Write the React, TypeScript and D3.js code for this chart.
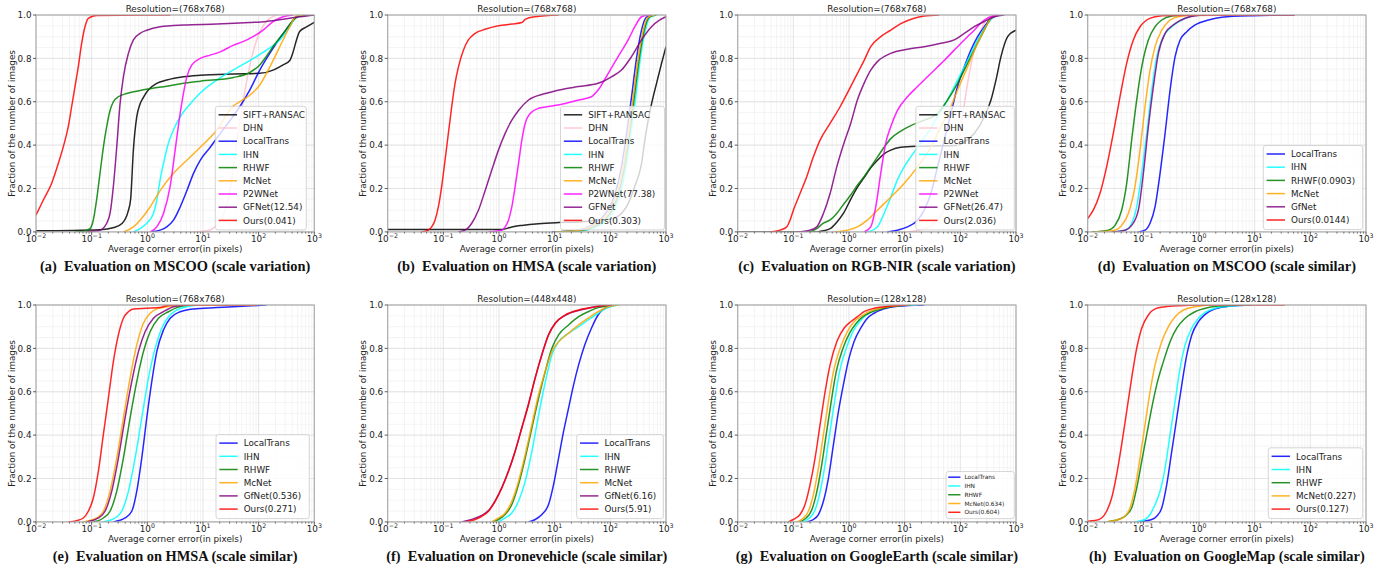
import React from 'react';
import * as d3 from 'd3';

// Every point is [log10(average corner error in pixels), fraction of images]
type Pt = [number, number];

// ---------- (a) MSCOO, scale variation ----------
const aSift: Pt[] = [[-2,0.005],[-0.85,0.01],[-0.6,0.02],[-0.45,0.04],[-0.35,0.09],[-0.3,0.15],[-0.25,0.38],[-0.19,0.53],[-0.13,0.59],[-0.07,0.62],[0.02,0.655],[0.17,0.685],[0.35,0.7],[0.65,0.715],[0.95,0.722],[1.55,0.728],[2.02,0.731],[2.26,0.746],[2.44,0.77],[2.56,0.79],[2.62,0.83],[2.68,0.885],[2.74,0.925],[2.86,0.945],[3.0,0.966]];
const aDhn: Pt[] = [[0.8,0],[1.07,0.005],[1.31,0.05],[1.49,0.2],[1.6,0.4],[1.72,0.6],[1.87,0.8],[2.08,0.95],[2.32,1]];
const aLt: Pt[] = [[0.05,0],[0.23,0.008],[0.35,0.023],[0.47,0.054],[0.59,0.115],[0.71,0.19],[0.83,0.27],[0.95,0.33],[1.13,0.39],[1.31,0.454],[1.49,0.515],[1.66,0.577],[1.84,0.654],[2.02,0.746],[2.2,0.823],[2.38,0.892],[2.56,0.954],[2.68,0.992],[2.8,1]];
const aIhn: Pt[] = [[-0.25,0],[-0.13,0.015],[-0.01,0.04],[0.11,0.085],[0.17,0.146],[0.23,0.24],[0.29,0.315],[0.38,0.41],[0.47,0.47],[0.59,0.53],[0.77,0.59],[0.95,0.64],[1.25,0.7],[1.54,0.746],[1.84,0.79],[2.14,0.838],[2.38,0.885],[2.56,0.946],[2.68,0.992],[2.8,1]];
const aRhwf: Pt[] = [[-1.3,0],[-1.15,0.002],[-1.03,0.015],[-0.97,0.055],[-0.91,0.15],[-0.85,0.27],[-0.79,0.39],[-0.73,0.485],[-0.67,0.56],[-0.61,0.6],[-0.52,0.623],[-0.37,0.638],[-0.13,0.652],[0.05,0.66],[0.35,0.672],[0.65,0.685],[0.95,0.695],[1.55,0.712],[1.84,0.735],[2.02,0.77],[2.14,0.81],[2.26,0.855],[2.44,0.915],[2.62,0.975],[2.74,0.995],[3,1]];
const aMcnet: Pt[] = [[-0.43,0],[-0.25,0.023],[-0.13,0.054],[0.05,0.115],[0.23,0.19],[0.47,0.27],[0.71,0.33],[0.95,0.39],[1.25,0.47],[1.54,0.58],[1.66,0.6],[1.84,0.63],[2.02,0.677],[2.2,0.76],[2.38,0.854],[2.56,0.946],[2.68,0.995],[2.8,1]];
const aP2w: Pt[] = [[0.05,0],[0.17,0.023],[0.29,0.085],[0.41,0.21],[0.5,0.377],[0.59,0.546],[0.65,0.64],[0.71,0.715],[0.8,0.77],[0.95,0.8],[1.13,0.815],[1.31,0.83],[1.54,0.86],[1.72,0.877],[1.9,0.9],[2.08,0.93],[2.26,0.97],[2.44,0.992],[2.62,1]];
const aGf: Pt[] = [[-1.1,0],[-0.97,0.003],[-0.85,0.008],[-0.73,0.04],[-0.67,0.085],[-0.61,0.21],[-0.55,0.39],[-0.49,0.59],[-0.43,0.715],[-0.34,0.823],[-0.25,0.885],[-0.13,0.915],[-0.01,0.93],[0.23,0.946],[0.65,0.954],[1.25,0.958],[1.84,0.965],[2.14,0.97],[2.44,0.98],[2.74,0.992],[3,1]];
const aOurs: Pt[] = [[-2,0.077],[-1.87,0.146],[-1.72,0.223],[-1.6,0.315],[-1.51,0.392],[-1.42,0.485],[-1.36,0.577],[-1.3,0.669],[-1.24,0.762],[-1.18,0.869],[-1.12,0.946],[-1.06,0.985],[-0.91,0.998],[0.41,1]];

// ---------- (b) HMSA, scale variation ----------
const bSift: Pt[] = [[-2,0.011],[0.05,0.011],[0.23,0.023],[0.41,0.03],[0.71,0.038],[1.07,0.043],[1.43,0.046],[1.78,0.054],[2.02,0.06],[2.2,0.085],[2.32,0.13],[2.44,0.21],[2.56,0.315],[2.62,0.423],[2.68,0.515],[2.74,0.59],[2.83,0.685],[2.92,0.777],[3,0.854]];
const bDhn: Pt[] = [[1.0,0],[1.47,0.007],[1.7,0.028],[1.94,0.075],[2.12,0.165],[2.24,0.3],[2.33,0.46],[2.42,0.63],[2.51,0.81],[2.6,0.935],[2.69,0.99],[2.8,1]];
const bLt: Pt[] = [[0.95,0],[1.43,0.008],[1.66,0.03],[1.9,0.08],[2.08,0.17],[2.2,0.3],[2.29,0.45],[2.38,0.62],[2.47,0.8],[2.56,0.93],[2.65,0.99],[2.77,1]];
const bIhn: Pt[] = [[1.05,0],[1.5,0.005],[1.73,0.02],[1.97,0.065],[2.15,0.15],[2.27,0.28],[2.36,0.43],[2.45,0.61],[2.54,0.8],[2.63,0.93],[2.72,0.99],[2.84,1]];
const bRhwf: Pt[] = [[1.0,0],[1.48,0.006],[1.71,0.025],[1.95,0.07],[2.13,0.16],[2.25,0.29],[2.34,0.44],[2.43,0.62],[2.52,0.8],[2.61,0.93],[2.7,0.99],[2.82,1]];
const bMcnet: Pt[] = [[1.0,0],[1.46,0.008],[1.69,0.03],[1.93,0.08],[2.11,0.17],[2.23,0.3],[2.32,0.45],[2.41,0.62],[2.5,0.8],[2.59,0.93],[2.68,0.99],[2.8,1]];
const bP2w: Pt[] = [[-0.19,0],[0.05,0.008],[0.11,0.023],[0.17,0.054],[0.23,0.115],[0.29,0.21],[0.35,0.315],[0.41,0.423],[0.47,0.5],[0.56,0.546],[0.71,0.57],[0.95,0.58],[1.19,0.592],[1.43,0.608],[1.66,0.623],[1.78,0.654],[1.96,0.73],[2.14,0.808],[2.32,0.885],[2.44,0.946],[2.56,0.992],[2.68,1]];
const bGf: Pt[] = [[-0.73,0],[-0.61,0.008],[-0.49,0.04],[-0.37,0.1],[-0.25,0.19],[-0.13,0.285],[-0.01,0.377],[0.11,0.454],[0.23,0.515],[0.35,0.56],[0.53,0.608],[0.83,0.638],[1.13,0.657],[1.43,0.67],[1.78,0.685],[2.02,0.715],[2.2,0.746],[2.38,0.808],[2.56,0.885],[2.74,0.946],[2.89,0.977],[3,0.992]];
const bOurs: Pt[] = [[-1.39,0],[-1.27,0.008],[-1.21,0.023],[-1.15,0.054],[-1.09,0.115],[-1.03,0.21],[-0.97,0.33],[-0.91,0.454],[-0.85,0.577],[-0.79,0.685],[-0.73,0.76],[-0.64,0.838],[-0.55,0.885],[-0.43,0.915],[-0.25,0.934],[-0.01,0.95],[0.23,0.958],[0.41,0.965],[0.47,0.98],[0.65,0.992],[1.07,1]];

// ---------- (c) RGB-NIR, scale variation ----------
const cSift: Pt[] = [[-2,0],[-0.58,0],[-0.46,0.005],[-0.34,0.015],[-0.22,0.045],[-0.09,0.09],[0.03,0.15],[0.15,0.205],[0.27,0.25],[0.39,0.295],[0.51,0.33],[0.63,0.36],[0.75,0.377],[0.93,0.39],[1.23,0.395],[1.65,0.397],[1.95,0.4],[2.07,0.415],[2.25,0.454],[2.43,0.53],[2.55,0.608],[2.64,0.7],[2.73,0.808],[2.85,0.9],[3,0.93]];
const cDhn: Pt[] = [[1.05,0],[1.35,0.015],[1.59,0.054],[1.77,0.146],[1.89,0.3],[2.01,0.485],[2.13,0.685],[2.25,0.838],[2.37,0.93],[2.49,0.985],[2.61,1]];
const cLt: Pt[] = [[0.69,0],[0.87,0.008],[1.05,0.023],[1.23,0.054],[1.35,0.1],[1.47,0.177],[1.59,0.3],[1.71,0.423],[1.83,0.546],[1.95,0.67],[2.07,0.76],[2.19,0.838],[2.31,0.9],[2.43,0.946],[2.55,0.985],[2.67,1]];
const cIhn: Pt[] = [[0.33,0],[0.51,0.023],[0.63,0.085],[0.75,0.16],[0.87,0.24],[0.99,0.3],[1.11,0.346],[1.23,0.39],[1.41,0.454],[1.59,0.53],[1.77,0.608],[1.95,0.7],[2.13,0.79],[2.31,0.885],[2.49,0.96],[2.61,0.992],[2.73,1]];
const cRhwf: Pt[] = [[-0.7,0],[-0.58,0.015],[-0.46,0.04],[-0.34,0.055],[-0.22,0.085],[-0.09,0.13],[0.03,0.17],[0.15,0.215],[0.27,0.255],[0.39,0.3],[0.51,0.345],[0.63,0.39],[0.75,0.43],[0.93,0.465],[1.11,0.49],[1.35,0.515],[1.59,0.546],[1.77,0.608],[1.95,0.685],[2.13,0.777],[2.31,0.87],[2.43,0.93],[2.55,0.985],[2.67,1]];
const cMcnet: Pt[] = [[-0.28,0],[-0.03,0.008],[0.15,0.023],[0.33,0.054],[0.51,0.1],[0.75,0.16],[0.99,0.223],[1.23,0.3],[1.47,0.39],[1.65,0.485],[1.83,0.577],[1.95,0.654],[2.13,0.76],[2.31,0.87],[2.43,0.93],[2.55,0.985],[2.67,1]];
const cP2w: Pt[] = [[0.27,0],[0.39,0.023],[0.48,0.115],[0.57,0.27],[0.66,0.41],[0.75,0.485],[0.87,0.56],[1.05,0.623],[1.23,0.67],[1.41,0.715],[1.59,0.76],[1.71,0.79],[1.89,0.838],[2.07,0.885],[2.25,0.93],[2.43,0.977],[2.61,0.997],[2.73,1]];
const cGf: Pt[] = [[-0.94,0],[-0.7,0.008],[-0.58,0.023],[-0.46,0.085],[-0.34,0.177],[-0.22,0.3],[-0.09,0.41],[0.03,0.5],[0.15,0.608],[0.27,0.685],[0.39,0.746],[0.51,0.785],[0.75,0.823],[1.05,0.842],[1.35,0.854],[1.65,0.87],[1.89,0.885],[2.07,0.915],[2.25,0.946],[2.43,0.97],[2.61,0.992],[2.79,1]];
const cOurs: Pt[] = [[-1.42,0],[-1.24,0.008],[-1.12,0.023],[-1.06,0.054],[-1.0,0.1],[-0.88,0.177],[-0.76,0.254],[-0.64,0.346],[-0.52,0.423],[-0.34,0.5],[-0.16,0.577],[0.03,0.67],[0.15,0.73],[0.27,0.79],[0.39,0.854],[0.57,0.9],[0.75,0.93],[0.93,0.96],[1.17,0.985],[1.35,0.995],[1.62,1]];

// ---------- (d) MSCOO, scale similar ----------
const dLt: Pt[] = [[-1.09,0],[-0.97,0.008],[-0.88,0.04],[-0.79,0.115],[-0.7,0.27],[-0.61,0.454],[-0.52,0.654],[-0.43,0.808],[-0.34,0.885],[-0.22,0.923],[-0.07,0.954],[0.17,0.977],[0.41,0.99],[0.95,0.997],[1.72,1]];
const dIhn: Pt[] = [[-1.57,0],[-1.33,0.008],[-1.21,0.04],[-1.12,0.115],[-1.03,0.27],[-0.94,0.454],[-0.85,0.654],[-0.76,0.808],[-0.64,0.9],[-0.49,0.946],[-0.31,0.977],[-0.13,0.995],[0.05,1]];
const dRhwf: Pt[] = [[-1.93,0],[-1.63,0.008],[-1.51,0.03],[-1.39,0.1],[-1.3,0.223],[-1.21,0.423],[-1.12,0.608],[-1.03,0.76],[-0.91,0.885],[-0.79,0.946],[-0.67,0.977],[-0.49,0.995],[-0.25,1]];
const dMcnet: Pt[] = [[-1.87,0],[-1.51,0.008],[-1.39,0.03],[-1.27,0.085],[-1.15,0.21],[-1.06,0.377],[-0.97,0.577],[-0.88,0.746],[-0.79,0.854],[-0.67,0.93],[-0.55,0.97],[-0.37,0.992],[-0.13,1]];
const dGf: Pt[] = [[-1.57,0],[-1.33,0.008],[-1.21,0.03],[-1.09,0.1],[-1.0,0.27],[-0.91,0.485],[-0.82,0.67],[-0.73,0.823],[-0.61,0.915],[-0.43,0.96],[-0.25,0.985],[-0.07,0.997],[0.11,1]];
const dOurs: Pt[] = [[-2,0.062],[-1.9,0.1],[-1.78,0.177],[-1.66,0.3],[-1.54,0.454],[-1.42,0.623],[-1.3,0.777],[-1.18,0.885],[-1.06,0.946],[-0.94,0.977],[-0.79,0.992],[-0.55,0.998],[1.72,1]];

// ---------- (e) HMSA, scale similar ----------
const eLt: Pt[] = [[-0.61,0],[-0.4,0.018],[-0.28,0.049],[-0.19,0.141],[-0.1,0.294],[-0.01,0.479],[0.08,0.647],[0.17,0.785],[0.29,0.885],[0.41,0.939],[0.59,0.969],[0.83,0.982],[1.25,0.988],[1.54,0.992],[2.14,1]];
const eIhn: Pt[] = [[-0.79,0],[-0.58,0.018],[-0.46,0.049],[-0.34,0.141],[-0.22,0.294],[-0.1,0.479],[0.02,0.663],[0.14,0.8],[0.26,0.893],[0.38,0.946],[0.53,0.977],[0.71,0.992],[0.95,1]];
const eRhwf: Pt[] = [[-0.97,0],[-0.79,0.018],[-0.67,0.049],[-0.55,0.141],[-0.43,0.294],[-0.31,0.479],[-0.19,0.647],[-0.07,0.785],[0.05,0.877],[0.2,0.939],[0.38,0.969],[0.53,0.988],[0.77,1]];
const eMcnet: Pt[] = [[-1.15,0],[-0.91,0.018],[-0.79,0.049],[-0.67,0.141],[-0.55,0.294],[-0.43,0.479],[-0.31,0.663],[-0.19,0.816],[-0.07,0.916],[0.05,0.962],[0.17,0.982],[0.35,0.992],[0.59,1],[1.96,1]];
const eGf: Pt[] = [[-1.09,0],[-0.88,0.018],[-0.76,0.049],[-0.64,0.141],[-0.52,0.294],[-0.4,0.479],[-0.28,0.647],[-0.16,0.785],[-0.04,0.877],[0.11,0.939],[0.29,0.969],[0.47,0.992],[0.71,1]];
const eOurs: Pt[] = [[-1.42,0],[-1.27,0.006],[-1.15,0.018],[-1.06,0.049],[-0.97,0.11],[-0.88,0.233],[-0.79,0.402],[-0.7,0.57],[-0.61,0.739],[-0.52,0.862],[-0.43,0.939],[-0.34,0.969],[-0.25,0.982],[-0.01,0.985],[0.23,0.988],[0.35,0.997],[0.47,1],[1.96,1]];

// ---------- (f) Dronevehicle, scale similar ----------
const fLt: Pt[] = [[0.53,0],[0.65,0.011],[0.77,0.034],[0.89,0.08],[0.98,0.172],[1.07,0.294],[1.16,0.417],[1.25,0.525],[1.34,0.632],[1.43,0.724],[1.54,0.816],[1.66,0.893],[1.78,0.954],[1.9,0.985],[2.02,0.997],[2.14,1]];
const fIhn: Pt[] = [[-0.01,0],[0.11,0.018],[0.23,0.041],[0.35,0.095],[0.47,0.187],[0.59,0.325],[0.68,0.448],[0.77,0.57],[0.86,0.678],[0.95,0.77],[1.07,0.831],[1.25,0.87],[1.43,0.9],[1.6,0.931],[1.78,0.962],[1.96,0.988],[2.14,1]];
const fRhwf: Pt[] = [[-0.13,0],[-0.01,0.011],[0.11,0.034],[0.23,0.08],[0.35,0.172],[0.47,0.294],[0.59,0.433],[0.71,0.57],[0.83,0.693],[0.95,0.8],[1.07,0.862],[1.25,0.908],[1.43,0.946],[1.6,0.969],[1.78,0.988],[1.96,0.997],[2.08,1]];
const fMcnet: Pt[] = [[-0.13,0],[-0.01,0.018],[0.11,0.041],[0.23,0.095],[0.35,0.187],[0.47,0.31],[0.59,0.448],[0.71,0.586],[0.83,0.693],[0.95,0.785],[1.07,0.83],[1.25,0.87],[1.43,0.908],[1.6,0.939],[1.78,0.969],[1.96,0.992],[2.14,1]];
const fGf: Pt[] = [[-0.67,0],[-0.45,0.015],[-0.31,0.03],[-0.19,0.052],[-0.07,0.097],[0.05,0.158],[0.17,0.235],[0.29,0.327],[0.41,0.435],[0.53,0.545],[0.65,0.665],[0.77,0.772],[0.89,0.864],[1.01,0.916],[1.19,0.952],[1.43,0.975],[1.66,0.988],[1.84,0.997],[2.02,1]];
const fOurs: Pt[] = [[-0.61,0],[-0.43,0.011],[-0.31,0.026],[-0.19,0.049],[-0.07,0.095],[0.05,0.156],[0.17,0.233],[0.29,0.325],[0.41,0.433],[0.53,0.54],[0.65,0.663],[0.77,0.77],[0.89,0.862],[1.01,0.916],[1.19,0.954],[1.43,0.977],[1.66,0.988],[1.84,0.997],[2.02,1]];

// ---------- (g) GoogleEarth, scale similar ----------
const gLt: Pt[] = [[-0.76,0],[-0.64,0.011],[-0.55,0.034],[-0.46,0.095],[-0.37,0.202],[-0.28,0.356],[-0.19,0.509],[-0.09,0.647],[0,0.755],[0.09,0.831],[0.21,0.893],[0.33,0.939],[0.45,0.962],[0.63,0.982],[0.87,0.994],[1.35,1]];
const gIhn: Pt[] = [[-0.83,0],[-0.71,0.018],[-0.62,0.049],[-0.53,0.126],[-0.44,0.248],[-0.35,0.402],[-0.26,0.555],[-0.17,0.693],[-0.05,0.8],[0.07,0.877],[0.19,0.923],[0.31,0.954],[0.45,0.977],[0.63,0.991],[0.87,0.998],[1.23,1]];
const gRhwf: Pt[] = [[-0.89,0],[-0.77,0.018],[-0.68,0.049],[-0.59,0.126],[-0.5,0.248],[-0.41,0.402],[-0.32,0.555],[-0.23,0.693],[-0.11,0.8],[0.01,0.87],[0.13,0.916],[0.25,0.946],[0.39,0.966],[0.57,0.982],[0.81,0.994],[1.11,1]];
const gMcnet: Pt[] = [[-0.94,0],[-0.82,0.018],[-0.73,0.049],[-0.64,0.126],[-0.55,0.248],[-0.46,0.402],[-0.37,0.555],[-0.28,0.693],[-0.16,0.8],[-0.03,0.877],[0.09,0.923],[0.21,0.946],[0.33,0.966],[0.51,0.982],[0.75,0.994],[1.05,1]];
const gOurs: Pt[] = [[-1.09,0],[-1.0,0.011],[-0.88,0.034],[-0.79,0.08],[-0.7,0.172],[-0.61,0.294],[-0.52,0.448],[-0.43,0.6],[-0.34,0.724],[-0.22,0.831],[-0.09,0.893],[0.03,0.923],[0.15,0.946],[0.27,0.969],[0.45,0.985],[0.75,0.995],[1.05,1]];

// ---------- (h) GoogleMap, scale similar ----------
const hLt: Pt[] = [[-1.09,0],[-0.85,0.011],[-0.76,0.026],[-0.67,0.064],[-0.58,0.172],[-0.49,0.325],[-0.4,0.479],[-0.31,0.632],[-0.22,0.77],[-0.13,0.862],[-0.01,0.923],[0.11,0.957],[0.29,0.982],[0.53,0.994],[0.95,1]];
const hIhn: Pt[] = [[-1.15,0],[-0.97,0.011],[-0.88,0.034],[-0.79,0.08],[-0.7,0.141],[-0.61,0.248],[-0.52,0.402],[-0.43,0.555],[-0.34,0.709],[-0.25,0.816],[-0.13,0.893],[-0.01,0.939],[0.11,0.966],[0.29,0.985],[0.53,0.994],[0.95,1]];
const hRhwf: Pt[] = [[-1.66,0],[-1.45,0.011],[-1.33,0.026],[-1.21,0.064],[-1.12,0.156],[-1.03,0.279],[-0.94,0.402],[-0.85,0.525],[-0.76,0.632],[-0.64,0.739],[-0.52,0.831],[-0.4,0.893],[-0.25,0.939],[-0.07,0.969],[0.17,0.988],[0.47,0.997],[0.77,1]];
const hMcnet: Pt[] = [[-1.66,0],[-1.45,0.011],[-1.33,0.026],[-1.24,0.064],[-1.15,0.156],[-1.06,0.294],[-0.97,0.448],[-0.88,0.6],[-0.79,0.724],[-0.67,0.831],[-0.55,0.9],[-0.43,0.946],[-0.28,0.977],[-0.07,0.992],[0.23,1]];
const hOurs: Pt[] = [[-2,0.003],[-1.87,0.006],[-1.75,0.018],[-1.66,0.049],[-1.57,0.11],[-1.48,0.218],[-1.39,0.356],[-1.3,0.509],[-1.21,0.663],[-1.12,0.8],[-1.03,0.893],[-0.91,0.954],[-0.79,0.982],[-0.61,0.992],[-0.37,0.997],[0.05,1],[1.54,1]];

// ---------- labels ----------
const PANEL_LETTERS = ['a', 'b', 'c', 'd', 'e', 'f', 'g', 'h'];
const RESOLUTIONS = ['768x768', '768x768', '768x768', '768x768', '768x768', '448x448', '128x128', '128x128'];
const CAPTIONS = [
  'Evaluation on MSCOO (scale variation)',
  'Evaluation on HMSA (scale variation)',
  'Evaluation on RGB-NIR (scale variation)',
  'Evaluation on MSCOO (scale similar)',
  'Evaluation on HMSA (scale similar)',
  'Evaluation on Dronevehicle (scale similar)',
  'Evaluation on GoogleEarth (scale similar)',
  'Evaluation on GoogleMap (scale similar)',
];
const X_TICK_EXPONENTS = [-2, -1, 0, 1, 2, 3];
const Y_TICKS = [0, 0.2, 0.4, 0.6, 0.8, 1.0];

const COLOR: Record<string, string> = {
  sift: 'black', dhn: 'pink', lt: 'blue', ihn: 'cyan', rhwf: 'green',
  mcnet: 'orange', p2w: 'magenta', gf: 'purple', ours: 'red',
};

interface Series { label: string; key: string; data: Pt[] }

const PANEL_SERIES: Series[][] = [
  [
    { label: 'SIFT+RANSAC', key: 'sift', data: aSift },
    { label: 'DHN', key: 'dhn', data: aDhn },
    { label: 'LocalTrans', key: 'lt', data: aLt },
    { label: 'IHN', key: 'ihn', data: aIhn },
    { label: 'RHWF', key: 'rhwf', data: aRhwf },
    { label: 'McNet', key: 'mcnet', data: aMcnet },
    { label: 'P2WNet', key: 'p2w', data: aP2w },
    { label: 'GFNet(12.54)', key: 'gf', data: aGf },
    { label: 'Ours(0.041)', key: 'ours', data: aOurs },
  ],
  [
    { label: 'SIFT+RANSAC', key: 'sift', data: bSift },
    { label: 'DHN', key: 'dhn', data: bDhn },
    { label: 'LocalTrans', key: 'lt', data: bLt },
    { label: 'IHN', key: 'ihn', data: bIhn },
    { label: 'RHWF', key: 'rhwf', data: bRhwf },
    { label: 'McNet', key: 'mcnet', data: bMcnet },
    { label: 'P2WNet(77.38)', key: 'p2w', data: bP2w },
    { label: 'GFNet', key: 'gf', data: bGf },
    { label: 'Ours(0.303)', key: 'ours', data: bOurs },
  ],
  [
    { label: 'SIFT+RANSAC', key: 'sift', data: cSift },
    { label: 'DHN', key: 'dhn', data: cDhn },
    { label: 'LocalTrans', key: 'lt', data: cLt },
    { label: 'IHN', key: 'ihn', data: cIhn },
    { label: 'RHWF', key: 'rhwf', data: cRhwf },
    { label: 'McNet', key: 'mcnet', data: cMcnet },
    { label: 'P2WNet', key: 'p2w', data: cP2w },
    { label: 'GFNet(26.47)', key: 'gf', data: cGf },
    { label: 'Ours(2.036)', key: 'ours', data: cOurs },
  ],
  [
    { label: 'LocalTrans', key: 'lt', data: dLt },
    { label: 'IHN', key: 'ihn', data: dIhn },
    { label: 'RHWF(0.0903)', key: 'rhwf', data: dRhwf },
    { label: 'McNet', key: 'mcnet', data: dMcnet },
    { label: 'GfNet', key: 'gf', data: dGf },
    { label: 'Ours(0.0144)', key: 'ours', data: dOurs },
  ],
  [
    { label: 'LocalTrans', key: 'lt', data: eLt },
    { label: 'IHN', key: 'ihn', data: eIhn },
    { label: 'RHWF', key: 'rhwf', data: eRhwf },
    { label: 'McNet', key: 'mcnet', data: eMcnet },
    { label: 'GfNet(0.536)', key: 'gf', data: eGf },
    { label: 'Ours(0.271)', key: 'ours', data: eOurs },
  ],
  [
    { label: 'LocalTrans', key: 'lt', data: fLt },
    { label: 'IHN', key: 'ihn', data: fIhn },
    { label: 'RHWF', key: 'rhwf', data: fRhwf },
    { label: 'McNet', key: 'mcnet', data: fMcnet },
    { label: 'GfNet(6.16)', key: 'gf', data: fGf },
    { label: 'Ours(5.91)', key: 'ours', data: fOurs },
  ],
  [
    { label: 'LocalTrans', key: 'lt', data: gLt },
    { label: 'IHN', key: 'ihn', data: gIhn },
    { label: 'RHWF', key: 'rhwf', data: gRhwf },
    { label: 'McNet(0.634)', key: 'mcnet', data: gMcnet },
    { label: 'Ours(0.604)', key: 'ours', data: gOurs },
  ],
  [
    { label: 'LocalTrans', key: 'lt', data: hLt },
    { label: 'IHN', key: 'ihn', data: hIhn },
    { label: 'RHWF', key: 'rhwf', data: hRhwf },
    { label: 'McNet(0.227)', key: 'mcnet', data: hMcnet },
    { label: 'Ours(0.127)', key: 'ours', data: hOurs },
  ],
];

// ---------- layout ----------
const COL_X = [36, 387.7, 737.7, 1087.7];
const ROW_Y = [15, 305];
const AX_W = 278.3;
const AX_H = 216.9;
const FONT = 'DejaVu Sans, sans-serif';
const FS = 8.8;
// legend: width, right gap, bottom gap, font scale
const LEGEND_LAYOUT = [
  { w: 91, r: 8, b: 2, s: 1 },
  { w: 104, r: 1.5, b: 2, s: 1 },
  { w: 98.5, r: 1.7, b: 2, s: 1 },
  { w: 99.4, r: 3.3, b: 2.4, s: 1 },
  { w: 93.3, r: 5, b: 3.3, s: 1 },
  { w: 86.6, r: 2.7, b: 3.3, s: 1 },
  { w: 68.3, r: 1.7, b: 3.3, s: 0.665 },
  { w: 94.4, r: 3.3, b: 3.3, s: 1 },
];

function Panel({ idx }: { idx: number }) {
  const x0 = COL_X[idx % 4];
  const y0 = ROW_Y[Math.floor(idx / 4)];
  const x = d3.scaleLog().domain([1e-2, 1e3]).range([x0, x0 + AX_W]);
  const y = d3.scaleLinear().domain([0, 1]).range([y0 + AX_H, y0]);
  const line = d3.line<Pt>().x(d => x(Math.pow(10, d[0]))).y(d => y(d[1])).curve(d3.curveMonotoneX);
  const allTicks = x.ticks();
  const majors = X_TICK_EXPONENTS.map(e => Math.pow(10, e));
  const minors = allTicks.filter(t => !majors.some(m => Math.abs(m - t) / m < 1e-6));
  const yMinor = d3.range(0, 21).map(i => i * 0.05);
  const series = PANEL_SERIES[idx];
  const lg = LEGEND_LAYOUT[idx];
  const s = lg.s;
  const rowH = 13.2 * s;
  const lgH = 8.5 * s + (series.length - 1) * rowH + 9.5 * s;
  const lgRight = x0 + AX_W - lg.r;
  const lgBottom = y0 + AX_H - lg.b;
  const lgLeft = lgRight - lg.w;
  const lgTop = lgBottom - lgH;
  const clipId = `clip-${PANEL_LETTERS[idx]}`;

  return (
    <g>
      <defs>
        <clipPath id={clipId}>
          <rect x={x0} y={y0} width={AX_W} height={AX_H} />
        </clipPath>
      </defs>
      <rect x={x0} y={y0} width={AX_W} height={AX_H} fill="white" />
      {/* grid */}
      {minors.map((t, i) => (
        <line key={'xm' + i} x1={x(t)} x2={x(t)} y1={y0} y2={y0 + AX_H} stroke="#efefef" strokeWidth={0.7} />
      ))}
      {yMinor.map((t, i) => (
        <line key={'ym' + i} x1={x0} x2={x0 + AX_W} y1={y(t)} y2={y(t)} stroke="#efefef" strokeWidth={0.7} />
      ))}
      {majors.map((t, i) => (
        <line key={'xM' + i} x1={x(t)} x2={x(t)} y1={y0} y2={y0 + AX_H} stroke="#dedede" strokeWidth={0.8} />
      ))}
      {Y_TICKS.map((t, i) => (
        <line key={'yM' + i} x1={x0} x2={x0 + AX_W} y1={y(t)} y2={y(t)} stroke="#dedede" strokeWidth={0.8} />
      ))}
      {/* curves */}
      <g clipPath={`url(#${clipId})`}>
        {series.map(sr => (
          <path key={sr.label} d={line(sr.data) || ''} fill="none" stroke={COLOR[sr.key]} strokeWidth={1.5} strokeOpacity={0.85} strokeLinejoin="round" />
        ))}
      </g>
      {/* spines */}
      <rect x={x0} y={y0} width={AX_W} height={AX_H} fill="none" stroke="#a8a8a8" strokeWidth={1.1} />
      {/* ticks */}
      {majors.map((t, i) => (
        <line key={'xt' + i} x1={x(t)} x2={x(t)} y1={y0 + AX_H} y2={y0 + AX_H + 3} stroke="#333" strokeWidth={0.8} />
      ))}
      {minors.map((t, i) => (
        <line key={'xtm' + i} x1={x(t)} x2={x(t)} y1={y0 + AX_H} y2={y0 + AX_H + 1.8} stroke="#333" strokeWidth={0.6} />
      ))}
      {Y_TICKS.map((t, i) => (
        <line key={'yt' + i} x1={x0 - 3} x2={x0} y1={y(t)} y2={y(t)} stroke="#333" strokeWidth={0.8} />
      ))}
      {/* tick labels */}
      {X_TICK_EXPONENTS.map((e, i) => (
        <text key={'xl' + i} x={x(Math.pow(10, e))} y={y0 + AX_H + 10.2} textAnchor="middle" fontFamily={FONT} fontSize={FS} fill="#222">
          <tspan>10</tspan>
          <tspan dy={-4} fontSize={6.3}>{e < 0 ? '\u2212' + Math.abs(e) : String(e)}</tspan>
        </text>
      ))}
      {Y_TICKS.map((t, i) => (
        <text key={'yl' + i} x={x0 - 4.5} y={y(t) + 3.2} textAnchor="end" fontFamily={FONT} fontSize={FS} fill="#222">
          {t.toFixed(1)}
        </text>
      ))}
      {/* axis labels and title */}
      <text x={x0 + AX_W / 2} y={y0 + AX_H + 20.5} textAnchor="middle" fontFamily={FONT} fontSize={FS} fill="#222">
        Average corner error(in pixels)
      </text>
      <text transform={`translate(${x0 - 24.3},${y0 + AX_H / 2}) rotate(-90)`} dy="0.35em" textAnchor="middle" fontFamily={FONT} fontSize={FS} fill="#222">
        Fraction of the number of images
      </text>
      <text x={x0 + AX_W / 2} y={y0 - 3} textAnchor="middle" fontFamily={FONT} fontSize={FS} fill="#222">
        {`Resolution=(${RESOLUTIONS[idx]})`}
      </text>
      {/* legend */}
      <rect x={lgLeft} y={lgTop} width={lg.w} height={lgH} rx={2.5} fill="white" fillOpacity={0.8} stroke="#cccccc" strokeWidth={0.8} />
      {series.map((sr, i) => {
        const cy = lgTop + 8.5 * s + i * rowH;
        return (
          <g key={'lg' + i}>
            <line x1={lgLeft + 3.3 * s} x2={lgLeft + 21.7 * s} y1={cy} y2={cy} stroke={COLOR[sr.key]} strokeWidth={1.5} strokeOpacity={0.85} />
            <text x={lgLeft + 27.7 * s} y={cy + 3.2 * s} fontFamily={FONT} fontSize={FS * s} fill="#222">{sr.label}</text>
          </g>
        );
      })}
      {/* caption */}
      <text x={x0 + AX_W / 2} y={y0 + AX_H + 39.5} textAnchor="middle" fontFamily="Liberation Serif, Times New Roman, serif" fontWeight="bold" fontSize={14.4} fill="#111" style={{ whiteSpace: 'pre' }}>
        {`(${PANEL_LETTERS[idx]})  ${CAPTIONS[idx]}`}
      </text>
    </g>
  );
}

export default function App() {
  return (
    <svg width={1396} height={569} style={{ position: 'absolute', left: 0, top: 0, background: 'white' }}>
      <rect x={0} y={0} width={1396} height={569} fill="white" />
      {PANEL_LETTERS.map((_, i) => <Panel key={i} idx={i} />)}
    </svg>
  );
}
